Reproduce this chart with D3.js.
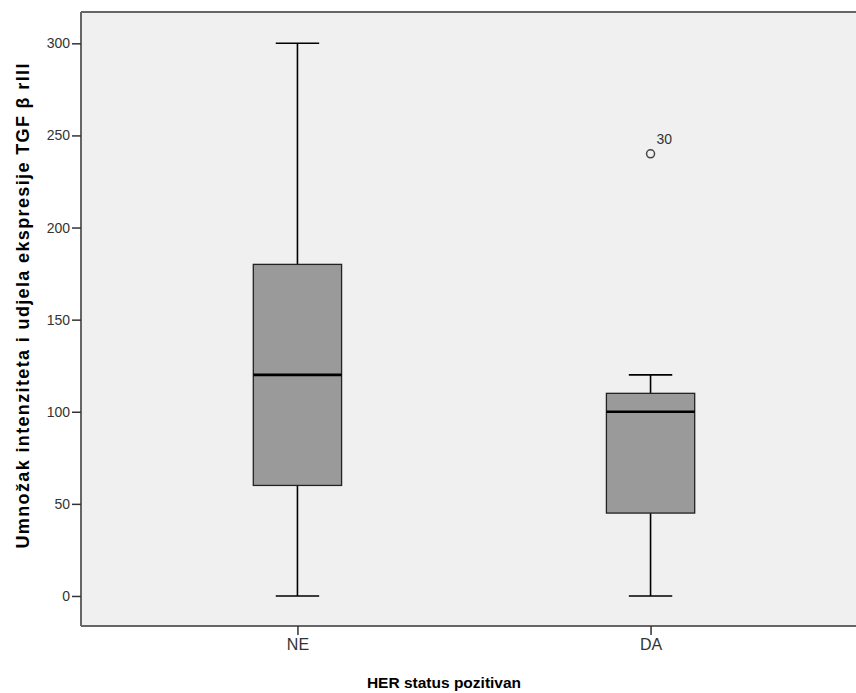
<!DOCTYPE html>
<html><head><meta charset="utf-8">
<script src="https://cdn.jsdelivr.net/npm/d3@7"></script>
<style>body{margin:0;background:#fff}svg{display:block}</style>
</head><body>
<script>
const categories = ["NE", "DA"];
const mins = [0, 0];
const q1s = [60, 45];
const medians = [120, 100];
const q3s = [180, 110];
const maxs = [300, 120];
const outliers = [{cat: "DA", value: 240, label: "30"}];
const yTicks = [0, 50, 100, 150, 200, 250, 300];
const yTitle = "Umnožak intenziteta i udjela ekspresije TGF β rIII";
const xTitle = "HER status pozitivan";

(function () {
const W = 856, H = 693;
const pLeft = 81, pRight = 867, pTop = 12, pBottom = 626;
const font = "Liberation Sans, Arial, sans-serif";
const svg = d3.select("body").append("svg").attr("width", W).attr("height", H);

const y = d3.scaleLinear().domain([-16.3, 317]).range([pBottom, pTop]);
const x = d3.scalePoint().domain(categories).range([pLeft, pRight]).padding(0.613);
const step = x.step();
const boxW = step * 0.25, capW = step * 0.123;

svg.append("rect").attr("x", pLeft).attr("y", pTop).attr("width", pRight - pLeft).attr("height", pBottom - pTop).attr("fill", "#f0f0f0");

const data = categories.map((c, i) => ({c, min: mins[i], q1: q1s[i], med: medians[i], q3: q3s[i], max: maxs[i]}));
const g = svg.append("g");
data.forEach(d => {
  const cx = x(d.c);
  g.append("line").attr("x1", cx).attr("x2", cx).attr("y1", y(d.max)).attr("y2", y(d.q3)).attr("stroke", "#000").attr("stroke-width", 1.6);
  g.append("line").attr("x1", cx).attr("x2", cx).attr("y1", y(d.q1)).attr("y2", y(d.min)).attr("stroke", "#000").attr("stroke-width", 1.6);
  [d.max, d.min].forEach(v => g.append("line").attr("x1", cx - capW/2).attr("x2", cx + capW/2).attr("y1", y(v)).attr("y2", y(v)).attr("stroke", "#000").attr("stroke-width", 1.6));
  g.append("rect").attr("x", cx - boxW/2).attr("y", y(d.q3)).attr("width", boxW).attr("height", y(d.q1) - y(d.q3)).attr("fill", "#9a9a9a").attr("stroke", "#222").attr("stroke-width", 1.3);
  g.append("line").attr("x1", cx - boxW/2).attr("x2", cx + boxW/2).attr("y1", y(d.med)).attr("y2", y(d.med)).attr("stroke", "#000").attr("stroke-width", 2.6);
});
outliers.forEach(o => {
  g.append("circle").attr("cx", x(o.cat)).attr("cy", y(o.value)).attr("r", 4).attr("fill", "none").attr("stroke", "#444").attr("stroke-width", 1.5);
  g.append("text").attr("x", x(o.cat) + 6).attr("y", y(o.value) - 10).attr("font-family", font).attr("font-size", 14).attr("fill", "#333").text(o.label);
});

svg.append("line").attr("x1", pLeft).attr("x2", pRight).attr("y1", pTop).attr("y2", pTop).attr("stroke", "#666").attr("stroke-width", 2);

const yAxis = svg.append("g").attr("transform", `translate(${pLeft},0)`).call(d3.axisLeft(y).tickValues(yTicks).tickSize(9).tickPadding(2));
const xAxis = svg.append("g").attr("transform", `translate(0,${pBottom})`).call(d3.axisBottom(x).tickSize(9).tickPadding(4));
[yAxis, xAxis].forEach(a => {
  a.select(".domain").attr("stroke", "#666").attr("stroke-width", 2);
  a.selectAll(".tick line").attr("stroke", "#333").attr("stroke-width", 1.5);
  a.selectAll(".tick text").attr("font-family", font).attr("fill", "#333");
});
yAxis.selectAll(".tick text").attr("font-size", 14);
xAxis.selectAll(".tick text").attr("font-size", 16);
yAxis.select(".domain").attr("d", `M0,${pTop}V${pBottom}`);
xAxis.select(".domain").attr("d", `M${pLeft},0H${pRight}`);

svg.append("text").attr("x", 444).attr("y", 688).attr("text-anchor", "middle").attr("font-family", font).attr("font-weight", "bold").attr("font-size", 15.5).attr("fill", "#000").text(xTitle);
svg.append("text").attr("transform", "translate(29,306) rotate(-90)").attr("text-anchor", "middle").attr("font-family", font).attr("font-weight", "bold").attr("font-size", 18).attr("textLength", 485).attr("lengthAdjust", "spacing").attr("fill", "#000").text(yTitle);
})();
</script>
</body></html>
